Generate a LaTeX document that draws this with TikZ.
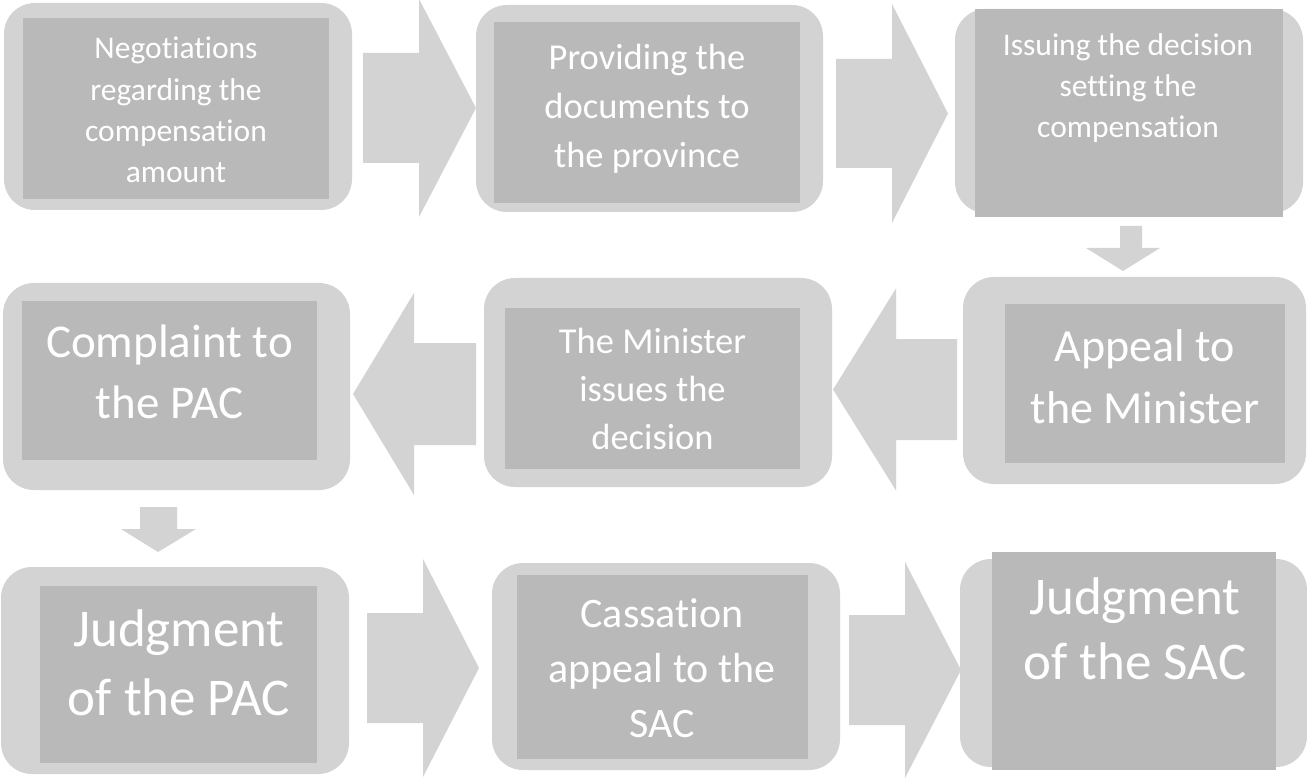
\documentclass[tikz,border=0pt]{standalone}
\usepackage{fontspec}
\setmainfont{Carlito}[Ligatures=NoCommon]
\usetikzlibrary{fit}
\definecolor{panelgray}{RGB}{211,211,211}
\definecolor{cardgray}{RGB}{185,185,185}
% horizontal block arrow: shaft start x, head base x, tip x, axis y, shaft half-width, head half-width
\newcommand\blockarrowh[6]{%
  \fill[flow] (#1,#4-#5) -- (#2,#4-#5) -- (#2,#4-#6) -- (#3,#4) -- (#2,#4+#6) -- (#2,#4+#5) -- (#1,#4+#5) -- cycle;}
\begin{document}
\begin{tikzpicture}[x=1pt,y=-1pt,
  panel/.style={fill=panelgray, rounded corners=31pt, inner sep=0pt, outer sep=0pt},
  card/.style={fill=cardgray, inner sep=0pt, outer sep=0pt},
  % captions are placed by the baseline of their last line
  caption/.style={text=white, align=center, inner sep=0pt, anchor=base},
  flow/.style={fill=panelgray}]
\useasboundingbox[fill=white] (0,0) rectangle (1307,778);

% ---- row 1 ----
\node[panel, fit={(4,3) (352,210)}] (p1) {};
\node[card, fit={(23,18) (329,199)}] (c1) {};
\node[caption, font=\fontsize{31.5}{41.2}\selectfont] (t1) at (176,182.5)
  {Negotiations\\regarding the\\compensation\\amount};

\node[panel, fit={(476,5) (823,212)}] (p2) {};
\node[card, fit={(494,22) (800,203)}] (c2) {};
\node[caption, font=\fontsize{36.5}{49}\selectfont] (t2) at (647,167.5)
  {Providing the\\documents to\\the province};

\node[panel, fit={(955,9) (1303,213)}] (p3) {};
\node[card, fit={(975,9) (1283,217)}] (c3) {};
\node[caption, font=\fontsize{31.5}{41}\selectfont] (t3) at (1128,137.5)
  {Issuing the decision\\setting the\\compensation};

% ---- row 2 ----
\node[panel, fit={(963,277) (1306,484)}] (p4) {};
\node[card, fit={(1005,304) (1285,463)}] (c4) {};
\node[caption, font=\fontsize{46}{62}\selectfont] (t4) at (1145,423)
  {Appeal to\\the Minister};

\node[panel, fit={(484,278) (832,487)}] (p5) {};
\node[card, fit={(505,308) (800,469)}] (c5) {};
\node[caption, font=\fontsize{36.5}{48}\selectfont] (t5) at (652.5,449)
  {The Minister\\issues the\\decision};

\node[panel, fit={(3,283) (350,490)}] (p6) {};
\node[card, fit={(22,301) (317,460)}] (c6) {};
\node[caption, font=\fontsize{47}{61}\selectfont] (t6) at (169.5,418.5)
  {Complaint to\\the PAC};

% ---- row 3 ----
\node[panel, fit={(1,567) (349,774)}] (p7) {};
\node[card, fit={(40,586) (317,763)}] (c7) {};
\node[caption, font=\fontsize{53}{69}\selectfont] (t7) at (179,715)
  {Judgment\\of the PAC};

\node[panel, fit={(492,563) (840,770)}] (p8) {};
\node[card, fit={(517,575) (808,759)}] (c8) {};
\node[caption, font=\fontsize{42}{55}\selectfont] (t8) at (662,737)
  {Cassation\\appeal to the\\SAC};

\node[panel, fit={(960,559) (1307,767)}] (p9) {};
\node[card, fit={(992,552) (1276,770)}] (c9) {};
\node[caption, font=\fontsize{53}{65}\selectfont] (t9) at (1135,679)
  {Judgment\\of the SAC};

% ---- block arrows ----
\blockarrowh{363}{419}{476}{108}{55}{109}
\blockarrowh{836}{892}{948}{113.5}{54.5}{109.5}
\fill[flow] (1120,226) -- (1142,226) -- (1142,248) -- (1160,248) -- (1123,271)
  -- (1086,248) -- (1120,248) -- cycle;
\blockarrowh{957}{896}{833}{389.5}{50.5}{101}
\blockarrowh{476}{414}{353}{394}{51}{101}
\fill[flow] (140,507) -- (177,507) -- (177,529) -- (196,529) -- (158,552)
  -- (121,529) -- (140,529) -- cycle;
\blockarrowh{367}{423}{479}{668}{55}{109}
\blockarrowh{849}{905}{961}{670}{55}{108}
\end{tikzpicture}
\end{document}
